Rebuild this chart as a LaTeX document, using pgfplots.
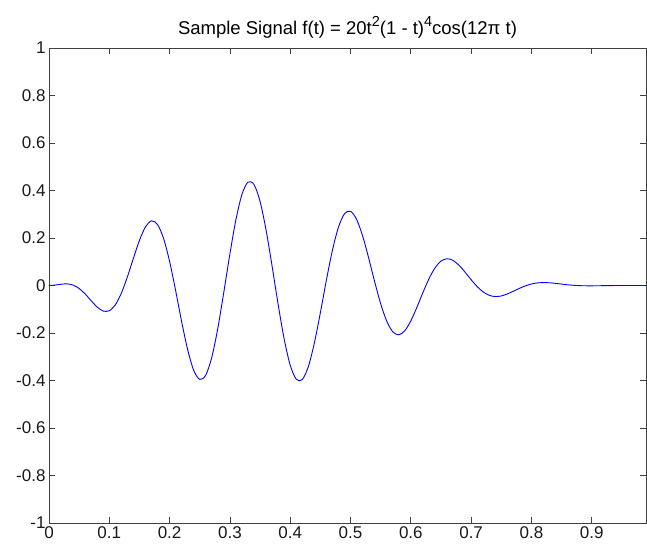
\documentclass[border=0pt]{standalone}
\usepackage{fontspec}
\setmainfont{Liberation Sans}
\usepackage{pgfplots}
\pgfplotsset{compat=1.18}
\usetikzlibrary{calc}

\newcommand{\supr}[1]{\raisebox{0.42em}{\fontsize{14.5}{15}\selectfont #1}}

\begin{document}
\begin{tikzpicture}
\begin{axis}[
    name=ax,
    scale only axis,
    width=597pt, height=475pt,
    xmin=0, xmax=0.99,
    ymin=-1, ymax=1,
    xtick={0,0.1,...,0.9},
    ytick={-1,-0.8,...,1},
    tick align=inside,
    major tick length=6pt,
    xtick pos=both, ytick pos=both,
    axis line style={black!75, line width=0.8pt},
    tick style={black!75, line width=0.8pt},
    font=\fontsize{17}{20}\selectfont,
    /pgf/number format/assume math mode=true,
    /pgf/number format/fixed,
    title={Sample Signal f(t) = 20t\supr{2}(1 - t)\supr{4}cos(12π t)},
    title style={font=\fontsize{18.5}{21}\selectfont, yshift=0pt},
    every tick label/.append style={black!90},
]
\addplot[blue, line width=0.9pt, smooth, tension=0.5] coordinates {
(0.00,0) (0.01,0.00179) (0.02,0.00538) (0.03,0.00679) (0.04,0.00171)
(0.05,-0.01258) (0.06,-0.03583) (0.07,-0.06424) (0.08,-0.09097) (0.09,-0.10760)
(0.10,-0.10616) (0.11,-0.08135) (0.12,-0.03237) (0.13,0.03629) (0.14,0.11489)
(0.15,0.19004) (0.16,0.24691) (0.17,0.27214) (0.18,0.25673) (0.19,0.19810)
(0.20,0.10125) (0.21,-0.02157) (0.22,-0.15257) (0.23,-0.27113) (0.24,-0.35735)
(0.25,-0.39551) (0.26,-0.37696) (0.27,-0.30184) (0.28,-0.17943) (0.29,-0.02684)
(0.30,0.13354) (0.31,0.27769) (0.32,0.38372) (0.33,0.43542) (0.34,0.42493)
(0.35,0.35382) (0.36,0.23300) (0.37,0.08083) (0.38,-0.07997) (0.39,-0.22568)
(0.40,-0.33551) (0.41,-0.39458) (0.42,-0.39608) (0.43,-0.34207) (0.44,-0.24272)
(0.45,-0.11452) (0.46,0.02260) (0.47,0.14843) (0.48,0.24561) (0.49,0.30206)
(0.50,0.31250) (0.51,0.27883) (0.52,0.20928) (0.53,0.11673) (0.54,0.01640)
(0.55,-0.07666) (0.56,-0.14984) (0.57,-0.19467) (0.58,-0.20770) (0.59,-0.19055)
(0.60,-0.14911) (0.61,-0.09224) (0.62,-0.03004) (0.63,0.02788) (0.64,0.07372)
(0.65,0.10258) (0.66,0.11276) (0.67,0.10563) (0.68,0.08498) (0.69,0.05605)
(0.70,0.02453) (0.71,-0.00448) (0.72,-0.02714) (0.73,-0.04129) (0.74,-0.04653)
(0.75,-0.04395) (0.76,-0.03564) (0.77,-0.02419) (0.78,-0.01214) (0.79,-0.00152)
(0.80,0.00633) (0.81,0.01090) (0.82,0.01237) (0.83,0.01142) (0.84,0.00896)
(0.85,0.00592) (0.86,0.00304) (0.87,0.00081) (0.88,-0.00060) (0.89,-0.00124)
(0.90,-0.00131) (0.91,-0.00105) (0.92,-0.00069) (0.93,-0.00036) (0.94,-0.00015)
(0.95,-0.00003) (0.96,0) (0.97,0) (0.98,0) (0.99,0)
};
\end{axis}
% page frame at the reference's margins round the axis box
\path ($(ax.south west)+(-49pt,-23pt)$) rectangle ($(ax.north east)+(1pt,48pt)$);
\end{tikzpicture}
\end{document}
